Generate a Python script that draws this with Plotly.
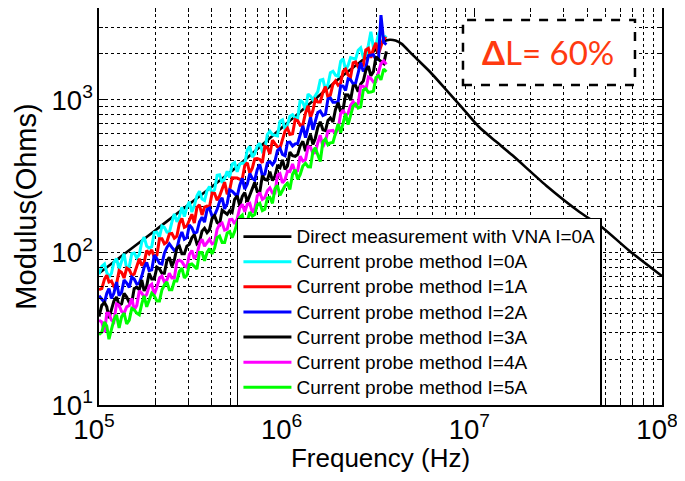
import plotly.graph_objects as go

# ---------------- data ----------------
# main frequency samples of the current-probe traces (Hz)
freq_probe = [1.00e5, 1.07e5, 1.13e5, 1.20e5, 1.28e5, 1.36e5, 1.45e5, 1.54e5, 1.64e5, 1.74e5,
              1.85e5, 1.97e5, 2.10e5, 2.23e5, 2.37e5, 2.52e5, 2.68e5, 2.85e5, 3.03e5, 3.22e5,
              3.43e5, 3.65e5, 3.88e5, 4.13e5, 4.39e5, 4.67e5, 4.97e5, 5.28e5, 5.62e5, 5.98e5,
              6.36e5, 6.76e5, 7.19e5, 7.65e5, 8.14e5, 8.66e5, 9.21e5, 9.80e5, 1.04e6, 1.11e6,
              1.18e6, 1.26e6, 1.34e6, 1.42e6, 1.51e6, 1.61e6, 1.71e6, 1.82e6, 1.94e6, 2.06e6,
              2.19e6, 2.33e6, 2.48e6, 2.64e6, 2.81e6, 2.99e6, 3.18e6, 3.40e6]
# in-between frequency samples (Hz)
freq_probe_mid = [1.035e5, 1.10e5, 1.165e5, 1.24e5, 1.32e5, 1.405e5, 1.495e5, 1.59e5, 1.69e5, 1.795e5,
                  1.91e5, 2.035e5, 2.165e5, 2.30e5, 2.445e5, 2.60e5, 2.765e5, 2.94e5, 3.125e5, 3.325e5,
                  3.54e5, 3.765e5, 4.005e5, 4.26e5, 4.53e5, 4.82e5, 5.12e5, 5.45e5, 5.80e5, 6.17e5,
                  6.56e5, 6.97e5, 7.42e5, 7.89e5, 8.40e5, 8.93e5, 9.50e5, 1.01e6, 1.075e6, 1.145e6,
                  1.22e6, 1.30e6, 1.38e6, 1.465e6, 1.56e6, 1.66e6, 1.765e6, 1.88e6, 2.00e6, 2.125e6,
                  2.26e6, 2.405e6, 2.56e6, 2.725e6, 2.90e6, 3.085e6, 3.29e6]

z_i0 = [72, 84, 69, 86, 78, 98, 81, 99, 97, 126, 107, 135, 126, 146, 135, 179, 171, 172, 215, 203,
        252, 219, 270, 258, 323, 305, 310, 388, 379, 382, 495, 444, 520, 477, 623, 587, 724, 642, 782, 760,
        995, 863, 1057, 1066, 1346, 1162, 1508, 1453, 1792, 1572, 1893, 1850, 2195, 1944, 2800, 2289, 2900, 2630]
z_i0_mid = [81, 74, 73, 91, 87, 78, 98, 92, 117, 110, 109, 136, 149, 136, 158, 159, 198, 198, 184, 235,
            224, 254, 245, 321, 286, 341, 379, 338, 385, 470, 421, 498, 461, 592, 591, 581, 741, 685, 799, 757,
            964, 1093, 1004, 1133, 1364, 1262, 1541, 1432, 1858, 1685, 1873, 2116, 1909, 2282, 2204, 2694, 2511]

z_i1 = [57, 67, 64, 60, 76, 68, 77, 72, 91, 86, 98, 93, 123, 114, 132, 124, 155, 146, 165, 156,
        205, 198, 199, 244, 234, 289, 257, 307, 302, 371, 331, 411, 407, 497, 442, 517, 483, 624, 594, 744,
        682, 818, 767, 1003, 969, 1222, 1078, 1332, 1290, 1595, 1413, 1774, 1703, 2125, 1890, 2363, 2249, 2519]
z_i1_mid = [58, 71, 65, 62, 74, 79, 71, 82, 82, 103, 104, 96, 123, 117, 133, 128, 167, 149, 178, 197,
            176, 201, 245, 220, 260, 241, 309, 308, 303, 387, 357, 413, 387, 487, 544, 493, 549, 652, 599, 732,
            688, 915, 851, 969, 1122, 1037, 1267, 1247, 1542, 1455, 1747, 1647, 1690, 2178, 2161, 1999, 2560]

z_i2 = [52, 47, 58, 54, 52, 66, 59, 67, 63, 80, 76, 96, 85, 99, 114, 103, 124, 122, 151, 133,
        159, 158, 195, 176, 215, 193, 257, 241, 275, 260, 329, 298, 378, 327, 394, 397, 480, 430, 529, 515,
        591, 566, 769, 714, 846, 804, 1029, 964, 1236, 1152, 1356, 1289, 1751, 1619, 1954, 1841, 3600, 2307]
z_i2_mid = [49, 54, 50, 64, 55, 63, 69, 62, 70, 86, 77, 91, 84, 108, 108, 106, 136, 125, 145, 136,
            170, 191, 173, 192, 228, 209, 252, 233, 306, 281, 306, 350, 319, 386, 376, 465, 439, 526, 499, 518,
            676, 680, 637, 828, 789, 1017, 964, 973, 1232, 1376, 1277, 1505, 1537, 1947, 1977, 1855, 2388]

z_i3 = [38, 47, 37, 48, 45, 54, 47, 58, 57, 56, 73, 67, 78, 73, 93, 89, 110, 98, 113, 131,
        118, 144, 141, 174, 153, 184, 188, 223, 203, 247, 237, 288, 248, 301, 339, 316, 359, 350, 455, 427,
        500, 462, 592, 559, 719, 629, 762, 866, 836, 1079, 997, 1241, 1271, 1558, 1439, 1920, 1791, 2079]
z_i3_mid = [45, 44, 42, 51, 46, 51, 47, 59, 66, 60, 67, 80, 73, 88, 81, 107, 98, 110, 125, 114,
            138, 135, 167, 157, 189, 178, 183, 235, 233, 215, 266, 250, 318, 298, 296, 368, 404, 369, 431, 439,
            535, 543, 510, 661, 637, 733, 717, 958, 875, 1077, 1232, 1134, 1328, 1668, 1532, 1843, 1730]

z_i4 = [36, 30, 40, 35, 45, 40, 45, 42, 56, 51, 60, 53, 68, 64, 73, 68, 89, 82, 97, 91,
        114, 110, 122, 116, 153, 140, 164, 154, 196, 185, 210, 194, 247, 229, 265, 245, 329, 301, 339, 335,
        428, 405, 489, 450, 587, 540, 624, 599, 810, 787, 920, 913, 1229, 1156, 1384, 1325, 1729, 1710]
z_i4_mid = [35, 40, 36, 46, 41, 44, 50, 45, 54, 53, 62, 59, 70, 66, 68, 87, 87, 80, 103, 96,
            122, 115, 114, 142, 156, 142, 165, 166, 207, 207, 183, 235, 223, 254, 245, 321, 286, 341, 380, 344,
            397, 492, 447, 524, 491, 624, 631, 644, 858, 817, 974, 945, 1230, 1411, 1309, 1490, 1804]

z_i5 = [29, 35, 27, 36, 32, 40, 36, 42, 39, 52, 48, 52, 48, 61, 57, 65, 75, 68, 83, 81,
        100, 88, 106, 107, 128, 116, 137, 137, 170, 148, 184, 177, 210, 192, 230, 262, 237, 274, 259, 349,
        324, 384, 364, 485, 395, 554, 523, 614, 610, 814, 780, 941, 900, 1185, 1125, 1402, 1355, 1529]
z_i5_mid = [30, 33, 32, 39, 38, 34, 43, 40, 46, 44, 54, 48, 57, 64, 57, 65, 79, 71, 84, 78,
            100, 100, 98, 125, 116, 134, 125, 157, 176, 160, 173, 205, 188, 227, 210, 275, 253, 284, 326, 302,
            369, 365, 458, 437, 532, 508, 527, 697, 718, 688, 912, 885, 1160, 1119, 1141, 1441, 1593]

freq_vna = [1e5, 2e5, 5e5, 1e6, 2e6, 3e6, 3.3e6, 3.55e6, 3.8e6, 4.1e6, 4.68e6, 5.8e6, 7.1e6, 8.6e6,
            1.06e7, 1.3e7, 1.59e7, 2.41e7, 3.62e7, 4.74e7, 6.67e7, 1e8]
z_vna = [73, 140, 335, 700, 1450, 2150, 2420, 2480, 2450, 2330, 1980, 1530, 1160, 890,
         664, 535, 435, 275, 185, 148, 103, 70]

legend_labels = ["Direct measurement with VNA I=0A",
                 "Current probe method I=0A",
                 "Current probe method I=1A",
                 "Current probe method I=2A",
                 "Current probe method I=3A",
                 "Current probe method I=4A",
                 "Current probe method I=5A"]
probe_series = [(z_i0, z_i0_mid), (z_i1, z_i1_mid), (z_i2, z_i2_mid),
                (z_i3, z_i3_mid), (z_i4, z_i4_mid), (z_i5, z_i5_mid)]
probe_colors = ["#00ffff", "#ff0000", "#0000ff", "#000000", "#ff00ff", "#00ff00"]

annotation_text = "<b>Δ</b>L= 60%"


# ---------------- helpers ----------------
def interleave(main, mid):
    out = []
    for k, v in enumerate(main):
        out.append(v)
        if k < len(mid):
            out.append(mid[k])
    return out


def leg(s):
    return '<span style="font-size:19px">' + s + '</span>'


freq_all = interleave(freq_probe, freq_probe_mid)

# ---------------- figure ----------------
fig = go.Figure()
fig.add_trace(go.Scatter(x=freq_vna, y=z_vna, mode="lines", name=leg(legend_labels[0]),
                         line=dict(color="#000000", width=2.6, shape="spline", smoothing=0.6)))
for lab, (ys, ys_mid), col in zip(legend_labels[1:], probe_series, probe_colors):
    fig.add_trace(go.Scatter(x=freq_all, y=interleave(ys, ys_mid), mode="lines", name=leg(lab),
                             line=dict(color=col, width=3)))

axis_common = dict(
    type="log", dtick=1, exponentformat="power", automargin=False,
    showline=True, linecolor="black", linewidth=1.5, mirror="allticks",
    ticks="inside", ticklen=8, tickcolor="black",
    showgrid=True, gridcolor="black", griddash="dot", gridwidth=1,
    zeroline=False, ticklabeloverflow="allow",
    tickfont=dict(family="Liberation Sans, Arial, sans-serif", size=22, color="black"),
    minor=dict(dtick="D1", ticks="inside", ticklen=4, tickcolor="black",
               showgrid=True, gridcolor="black", griddash="dot", gridwidth=1),
)

fig.update_xaxes(range=[5, 8], **axis_common, ticklabelshift=-5,
                 title=dict(text="Frequency (Hz)", standoff=7,
                            font=dict(family="Liberation Sans, Arial, sans-serif", size=26, color="black")))
fig.update_yaxes(range=[1, 3.6025], **axis_common, labelalias={"10": "10<sup>1</sup>"},
                 title=dict(text="Modulus(Ohms)", standoff=6,
                            font=dict(family="Liberation Sans, Arial, sans-serif", size=29, color="black")))

fig.add_shape(type="rect", xref="paper", yref="paper", x0=0.6465, x1=0.952, y0=0.806, y1=0.970,
              line=dict(color="black", width=2.5, dash="dash"), fillcolor="white", layer="above")
fig.add_annotation(xref="paper", yref="paper", x=0.797, y=0.888, xanchor="center", yanchor="middle",
                   text=annotation_text, showarrow=False,
                   font=dict(family="Lato, Open Sans, sans-serif", size=33, color="#ff3a10"))

# the page body adds an 8 px offset, so the figure is 8 px smaller and margins compensate
fig.update_layout(
    width=677, height=465,
    margin=dict(l=91, r=23, t=0, b=68, autoexpand=False),
    paper_bgcolor="white", plot_bgcolor="white",
    showlegend=True,
    legend=dict(x=0.245, y=-0.004, xanchor="left", yanchor="bottom",
                bgcolor="white", bordercolor="black", borderwidth=1.5,
                font=dict(family="Liberation Sans, Arial, sans-serif", size=17, color="black"),
                itemwidth=48, tracegroupgap=0),
)

fig.write_html("out.html")
